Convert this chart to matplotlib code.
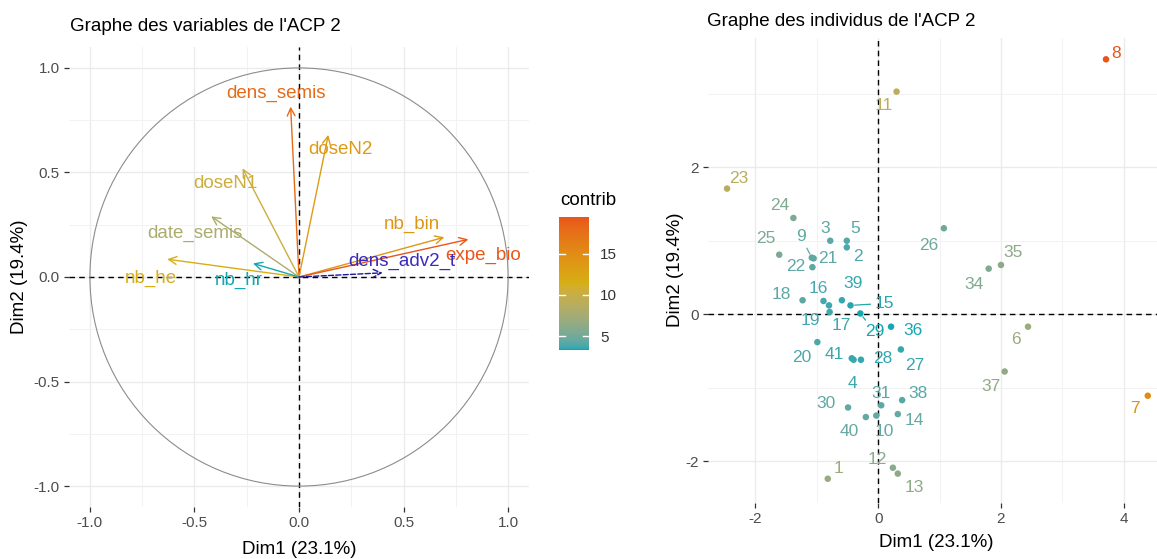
import numpy as np
import matplotlib
matplotlib.use("Agg")
import matplotlib.pyplot as plt
from matplotlib.colors import ListedColormap, Normalize
from matplotlib.patches import Circle

plt.rcParams['font.family'] = ['Liberation Sans', 'DejaVu Sans']
plt.rcParams['axes.unicode_minus'] = False

# --- données : graphe des variables ---
var_names = ["dens_semis", "doseN2", "doseN1", "date_semis", "nb_he",
             "nb_hr", "nb_bin", "expe_bio"]
var_dim1 = [-0.04, 0.14, -0.27, -0.42, -0.63, -0.22, 0.695, 0.81]
var_dim2 = [0.815, 0.68, 0.52, 0.29, 0.085, 0.065, 0.19, 0.18]
var_contrib = [18.0, 13.5, 10.5, 8.0, 11.5, 3.3, 14.0, 19.5]

sup_name = "dens_adv2_t"
sup_dim1 = 0.40
sup_dim2 = 0.02

# --- données : graphe des individus ---
ind_labels = ["1", "2", "3", "4", "5", "6", "7", "8", "9", "10",
              "11", "12", "13", "14", "15", "16", "17", "18", "19", "20",
              "21", "22", "23", "24", "25", "26", "27", "28", "29", "30",
              "31", "34", "35", "36", "37", "38", "39", "40", "41"]
ind_dim1 = [-0.82, -0.51, -0.78, -0.40, -0.51, 2.44, 4.39, 3.71, -1.08, -0.03,
            0.30, 0.24, 0.32, 0.32, -0.45, -0.89, -0.79, -1.23, -0.80, -0.99,
            -1.05, -1.07, -2.46, -1.38, -1.61, 1.07, 0.37, -0.28, -0.29, -0.49,
            0.05, 1.80, 2.00, 0.21, 2.06, 0.39, -0.59, -0.20, -0.43]
ind_dim2 = [-2.24, 0.91, 1.00, -0.62, 1.00, -0.17, -1.11, 3.47, 0.77, -1.38,
            3.03, -2.09, -2.17, -1.36, 0.12, 0.18, 0.03, 0.19, 0.12, -0.38,
            0.76, 0.64, 1.71, 1.31, 0.81, 1.17, -0.48, -0.62, 0.01, -1.27,
            -1.24, 0.62, 0.67, -0.17, -0.78, -1.17, 0.19, -1.40, -0.60]
ind_contrib = [4.3, 0.8, 1.2, 0.4, 1.0, 4.5, 14.0, 19.5, 1.3, 1.4,
               7.0, 3.3, 3.6, 1.5, 0.2, 0.6, 0.5, 1.2, 0.5, 0.8,
               1.3, 1.2, 6.8, 2.7, 2.5, 1.9, 0.3, 0.3, 0.1, 1.4,
               1.2, 2.7, 3.4, 0.05, 3.7, 1.1, 0.3, 1.5, 0.4]

# décalages des étiquettes (mise en page)
var_label_off = {"dens_semis": (-0.07, 0.065), "doseN2": (0.06, -0.07),
                 "doseN1": (-0.08, -0.075), "date_semis": (-0.08, -0.08),
                 "nb_he": (-0.08, -0.09), "nb_hr": (-0.07, -0.08),
                 "nb_bin": (-0.155, 0.06), "expe_bio": (0.07, -0.075),
                 "dens_adv2_t": (0.09, 0.053)}
ind_label_off = {"1": (11, 10), "2": (11, -9), "3": (-5, 12), "4": (-1, -24),
                 "5": (8, 12), "6": (-12, -13), "7": (-13, -13), "8": (10, 6),
                 "9": (-11, 21), "10": (8, -16), "11": (-13, -14), "12": (-16, 8),
                 "13": (17, -14), "14": (17, -6), "15": (34, 2), "16": (-5, 12),
                 "17": (12, -13), "18": (-21, 6), "19": (-19, -15), "20": (-16, -15),
                 "21": (14, 0), "22": (-17, 1), "23": (12, 10), "24": (-14, 12),
                 "25": (-13, 16), "26": (-15, -17), "27": (14, -16), "28": (22, 1),
                 "29": (14, -18), "30": (-22, 4), "31": (0, 12), "34": (-15, -16),
                 "35": (12, 12), "36": (22, -4), "37": (-14, -15), "38": (16, 7),
                 "39": (11, 17), "40": (-17, -14), "41": (-17, 4)}
with_segment = ["9", "15", "29"]


# dégradé interpolé dans l'espace Lab (comme ggplot2)
def to_lab(rgb):
    c = np.asarray(rgb, dtype=float)
    lin = np.where(c <= 0.04045, c / 12.92, ((c + 0.055) / 1.055) ** 2.4)
    m = np.array([[0.4124, 0.3576, 0.1805], [0.2126, 0.7152, 0.0722], [0.0193, 0.1192, 0.9505]])
    xyz = m @ lin / np.array([0.95047, 1.0, 1.08883])
    f = np.where(xyz > 0.008856, np.cbrt(xyz), 7.787 * xyz + 16 / 116)
    return np.array([116 * f[1] - 16, 500 * (f[0] - f[1]), 200 * (f[1] - f[2])])


def from_lab(lab):
    fy = (lab[0] + 16) / 116
    f = np.array([fy + lab[1] / 500, fy, fy - lab[2] / 200])
    xyz = np.where(f ** 3 > 0.008856, f ** 3, (f - 16 / 116) / 7.787) * np.array([0.95047, 1.0, 1.08883])
    m = np.array([[3.2406, -1.5372, -0.4986], [-0.9689, 1.8758, 0.0415], [0.0557, -0.2040, 1.0570]])
    lin = np.clip(m @ xyz, 0, 1)
    return np.clip(np.where(lin <= 0.0031308, 12.92 * lin, 1.055 * lin ** (1 / 2.4) - 0.055), 0, 1)


anchors = [to_lab(matplotlib.colors.to_rgb(h)) for h in ["#00AFBB", "#E7B800", "#FC4E07"]]
grad = []
for t in np.linspace(0, 1, 256):
    i = 0 if t < 0.5 else 1
    u = (t - 0.5 * i) / 0.5
    rgb = from_lab(anchors[i] * (1 - u) + anchors[i + 1] * u)
    grad.append(rgb * 0.84 + 0.5 * 0.16)  # rendu un peu terne, comme l'image
cmap = ListedColormap(grad)

W, H = 1157, 559
fig = plt.figure(figsize=(W / 100, H / 100), dpi=100)


def style_axes(ax, majx, minx, majy, miny):
    for s in ax.spines.values():
        s.set_visible(False)
    ax.set_xticks(majx)
    ax.set_xticks(minx, minor=True)
    ax.set_yticks(majy)
    ax.set_yticks(miny, minor=True)
    ax.grid(True, which='major', color='#EBEBEB', lw=1.0)
    ax.grid(True, which='minor', color='#F2F2F2', lw=0.7)
    ax.set_axisbelow(True)
    ax.tick_params(which='major', length=3.5, width=0.9, color='#333333',
                   labelcolor='#4D4D4D', labelsize=11, pad=3)
    ax.tick_params(which='minor', length=0)
    ax.axhline(0, color='black', lw=1.0, ls=(0, (4, 3)), zorder=1)
    ax.axvline(0, color='black', lw=1.0, ls=(0, (4, 3)), zorder=1)


# ---------- graphe des variables ----------
ax1 = fig.add_axes([69 / W, 1 - 507 / H, 460 / W, 460 / H])
ax1.set_xlim(-1.1, 1.1)
ax1.set_ylim(-1.1, 1.1)
style_axes(ax1, [-1, -0.5, 0, 0.5, 1], [-0.75, -0.25, 0.25, 0.75],
           [-1, -0.5, 0, 0.5, 1], [-0.75, -0.25, 0.25, 0.75])
ax1.set_xticklabels(["-1.0", "-0.5", "0.0", "0.5", "1.0"])
ax1.set_yticklabels(["-1.0", "-0.5", "0.0", "0.5", "1.0"])
ax1.add_patch(Circle((0, 0), 1, fill=False, ec='#8C8C8C', lw=0.8))

norm1 = Normalize(min(var_contrib), max(var_contrib))
for name, x, y, c in zip(var_names, var_dim1, var_dim2, var_contrib):
    col = cmap(norm1(c))
    ax1.annotate('', xy=(x, y), xytext=(0, 0),
                 arrowprops=dict(arrowstyle='->', color=col, lw=1.0,
                                 mutation_scale=14, shrinkA=0, shrinkB=0))
    dx, dy = var_label_off[name]
    ax1.text(x + dx, y + dy, name, color=col, fontsize=13.5,
             ha='center', va='center')

sup_col = '#3A2BC0'
ax1.annotate('', xy=(sup_dim1, sup_dim2), xytext=(0, 0),
             arrowprops=dict(arrowstyle='->', color='#1A1A9A', lw=1.0, ls='--',
                             mutation_scale=14, shrinkA=0, shrinkB=0))
dx, dy = var_label_off[sup_name]
ax1.text(sup_dim1 + dx, sup_dim2 + dy, sup_name, color=sup_col, fontsize=13.5,
         ha='center', va='center')

fig.text(70 / W, 1 - 31 / H, "Graphe des variables de l'ACP 2", fontsize=13.5,
         ha='left', va='baseline')
fig.text(299 / W, 1 - 554 / H, "Dim1 (23.1%)", fontsize=13.5, ha='center', va='baseline')
fig.text(20 / W, 1 - 277 / H, "Dim2 (19.4%)", fontsize=13.5, ha='center',
         va='center', rotation=90)

# légende contrib
cax = fig.add_axes([559 / W, 1 - 350 / H, 30 / W, 133 / H])
cb = fig.colorbar(plt.cm.ScalarMappable(norm=norm1, cmap=cmap), cax=cax)
cb.outline.set_visible(False)
cb.set_ticks([5, 10, 15])
cax.tick_params(length=0, labelsize=11, labelcolor='#333333', pad=8)
for v in [5, 10, 15]:
    cax.plot([0, 0.2], [v, v], color='white', lw=1)
    cax.plot([0.8, 1], [v, v], color='white', lw=1)
fig.text(560 / W, 1 - 205 / H, "contrib", fontsize=13.5, ha='left', va='baseline')

# ---------- graphe des individus ----------
ax2 = fig.add_axes([708 / W, 1 - 503 / H, 449 / W, 465 / H])
ax2.set_xlim(-2.77, 4.54)
ax2.set_ylim(-2.57, 3.76)
style_axes(ax2, [-2, 0, 2, 4], [-1, 1, 3], [-2, 0, 2], [-1, 1, 3])

norm2 = Normalize(min(ind_contrib), max(ind_contrib))
cols = [cmap(norm2(c)) for c in ind_contrib]
ax2.scatter(ind_dim1, ind_dim2, s=22, c=cols, zorder=3, linewidths=0)
for lab, x, y, col in zip(ind_labels, ind_dim1, ind_dim2, cols):
    off = ind_label_off[lab]
    props = None
    if lab in with_segment:
        props = dict(arrowstyle='-', color=col, lw=0.9, shrinkA=1, shrinkB=3)
    ax2.annotate(lab, xy=(x, y), xytext=off, textcoords='offset pixels',
                 color=col, fontsize=12.5, ha='center', va='center',
                 arrowprops=props, zorder=4)

fig.text(707 / W, 1 - 26 / H, "Graphe des individus de l'ACP 2", fontsize=13.5,
         ha='left', va='baseline')
fig.text(936 / W, 1 - 547 / H, "Dim1 (23.1%)", fontsize=13.5, ha='center', va='baseline')
fig.text(675 / W, 1 - 270 / H, "Dim2 (19.4%)", fontsize=13.5, ha='center',
         va='center', rotation=90)

fig.savefig("out.png", dpi=100)
